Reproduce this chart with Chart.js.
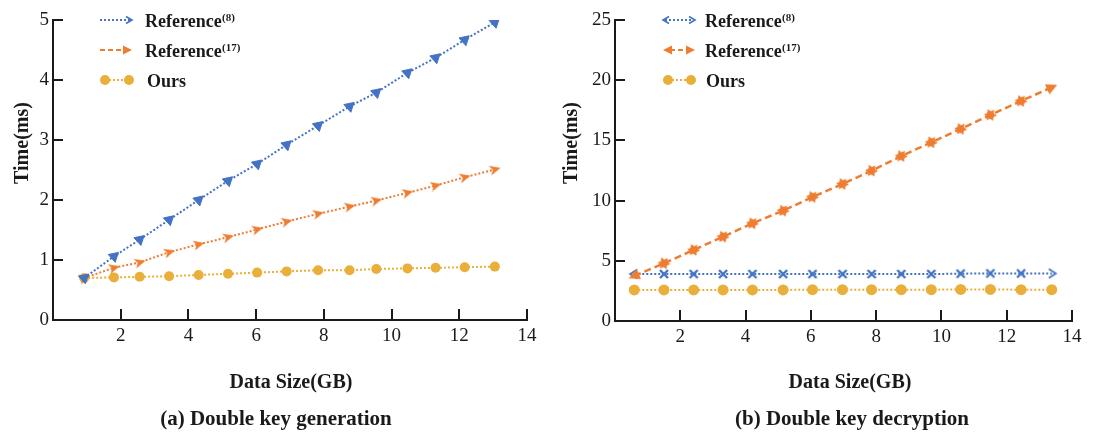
<!DOCTYPE html>
<html>
<head>
<meta charset="utf-8">
<script src="https://cdn.jsdelivr.net/npm/chart.js@4.4.1/dist/chart.umd.min.js"></script>
<style>
    html, body { margin: 0; padding: 0; background: #fff; }
    #kontener { position: relative; width: 1104px; height: 434px; }
    canvas { position: absolute; top: 0; }
    #wykresA { left: 0; }
    #wykresB { left: 552px; }
</style>
</head>
<body>
<div id="kontener">
    <canvas id="wykresA" width="552" height="434"></canvas>
    <canvas id="wykresB" width="552" height="434"></canvas>
</div>
<script>
// (a) Double key generation
const rozmiaryA = [0.92, 1.80, 2.56, 3.43, 4.30, 5.17, 6.03, 6.90, 7.83, 8.76, 9.55, 10.47, 11.30, 12.16, 13.05];
const czasRef8A = [0.70, 1.06, 1.34, 1.67, 2.00, 2.32, 2.60, 2.92, 3.24, 3.56, 3.79, 4.12, 4.37, 4.67, 4.96];
const czasRef17A = [0.70, 0.87, 0.96, 1.13, 1.26, 1.38, 1.51, 1.64, 1.77, 1.89, 1.99, 2.12, 2.24, 2.38, 2.51];
const czasNaszA = [0.70, 0.71, 0.72, 0.73, 0.75, 0.77, 0.79, 0.81, 0.83, 0.83, 0.85, 0.86, 0.87, 0.88, 0.89];

// (b) Double key decryption
const rozmiaryB = [0.59, 1.50, 2.41, 3.31, 4.21, 5.15, 6.05, 6.97, 7.86, 8.77, 9.69, 10.59, 11.50, 12.44, 13.38];
const czasRef8B = [3.90, 3.90, 3.90, 3.90, 3.90, 3.90, 3.90, 3.90, 3.90, 3.90, 3.90, 3.93, 3.95, 3.95, 3.95];
const czasRef17B = [3.74, 4.79, 5.90, 7.00, 8.11, 9.16, 10.30, 11.38, 12.48, 13.70, 14.84, 15.95, 17.11, 18.27, 19.41];
const czasNaszB = [2.58, 2.58, 2.58, 2.58, 2.58, 2.58, 2.60, 2.60, 2.60, 2.60, 2.60, 2.62, 2.62, 2.60, 2.60];

const tickiX = [0, 2, 4, 6, 8, 10, 12, 14];
const tickiYA = [0, 1, 2, 3, 4, 5];
const tickiYB = [0, 5, 10, 15, 20, 25];

const NIEBIESKI = '#4472C4';
const POMARANCZ = '#ED7D31';
const ZLOTY = '#E9AF3A';
const CZARNY = '#1a1a1a';
const CZCIONKA = '"Liberation Serif", "Times New Roman", serif';

function polacz(xs, ys) {
    return xs.map((x, i) => ({ x: x, y: ys[i] }));
}

function zrobZnacznik(rozmiar, rysuj) {
    const c = document.createElement('canvas');
    c.width = rozmiar;
    c.height = rozmiar;
    const g = c.getContext('2d');
    g.translate(rozmiar / 2, rozmiar / 2);
    rysuj(g);
    return c;
}

// strzalka z wcieciem (lewy wykres, Reference(17))
const strzalka = zrobZnacznik(16, g => {
    g.fillStyle = POMARANCZ;
    g.beginPath();
    g.moveTo(6, 0); g.lineTo(-5, -5); g.lineTo(-2, 0); g.lineTo(-5, 5);
    g.closePath();
    g.fill();
});

// pelny trojkat (konce Reference(17) po prawej)
const trojkat = zrobZnacznik(16, g => {
    g.fillStyle = POMARANCZ;
    g.beginPath();
    g.moveTo(6, 0); g.lineTo(-5, -5.5); g.lineTo(-5, 5.5);
    g.closePath();
    g.fill();
});

// gwiazdka szescioramienna
const gwiazda = zrobZnacznik(16, g => {
    g.fillStyle = POMARANCZ;
    [0, Math.PI].forEach(obrot => {
        g.beginPath();
        for (let k = 0; k < 3; k++) {
            const a = obrot + k * 2 * Math.PI / 3 - Math.PI / 2;
            const px = Math.cos(a) * 6.5, py = Math.sin(a) * 6.5;
            if (k === 0) g.moveTo(px, py); else g.lineTo(px, py);
        }
        g.closePath();
        g.fill();
    });
});

// otwarty szewron (konce Reference(8) po prawej)
const szewron = zrobZnacznik(16, g => {
    g.strokeStyle = NIEBIESKI;
    g.lineWidth = 1.8;
    g.beginPath();
    g.moveTo(-3, -4.5); g.lineTo(4, 0); g.lineTo(-3, 4.5);
    g.stroke();
});

// krzyzyk (srodek Reference(8) po prawej)
const krzyzyk = zrobZnacznik(14, g => {
    g.strokeStyle = NIEBIESKI;
    g.lineWidth = 2.4;
    g.beginPath();
    g.moveTo(-4, -4); g.lineTo(4, 4);
    g.moveTo(4, -4); g.lineTo(-4, 4);
    g.stroke();
});

function katLinii(c) {
    const dane = c.dataset.data;
    const i = c.dataIndex;
    if (i === undefined) return 0;
    const a = dane[Math.max(i - 1, 0)];
    const b = dane[Math.min(i + 1, dane.length - 1)];
    const sx = c.chart.scales.x, sy = c.chart.scales.y;
    return Math.atan2(sy.getPixelForValue(b.y) - sy.getPixelForValue(a.y),
        sx.getPixelForValue(b.x) - sx.getPixelForValue(a.x)) * 180 / Math.PI;
}

function osie(tickiY, szerokoscY, wysokoscX) {
    const czcionkaTickow = { family: CZCIONKA, size: 19 };
    return {
        x: {
            type: 'linear', min: 0, max: 14,
            afterBuildTicks: s => { s.ticks = tickiX.map(v => ({ value: v })); },
            ticks: { padding: 5, color: CZARNY, font: czcionkaTickow, maxRotation: 0, autoSkip: false,
                callback: v => v === 0 ? '' : v },
            grid: { display: false, drawTicks: false },
            border: { display: true, color: CZARNY, width: 2 },
            afterFit: s => { s.height = wysokoscX; }
        },
        y: {
            min: 0, max: tickiY[tickiY.length - 1],
            afterBuildTicks: s => { s.ticks = tickiY.map(v => ({ value: v })); },
            ticks: { padding: 4, color: CZARNY, font: czcionkaTickow },
            grid: { display: false, drawTicks: false },
            border: { display: true, color: CZARNY, width: 2 },
            afterFit: s => { s.width = szerokoscY; }
        }
    };
}

function wtyczkaOpisow(opis) {
    return {
        id: 'opisy',
        afterDraw(chart) {
            const { ctx, chartArea, scales } = chart;
            ctx.save();

            // ticki do srodka
            ctx.strokeStyle = CZARNY;
            ctx.lineWidth = 2;
            ctx.setLineDash([]);
            scales.x.ticks.forEach(t => {
                if (t.value === 0) return;
                const px = Math.round(scales.x.getPixelForValue(t.value));
                ctx.beginPath();
                ctx.moveTo(px, chartArea.bottom);
                ctx.lineTo(px, chartArea.bottom - 11);
                ctx.stroke();
            });
            scales.y.ticks.forEach(t => {
                if (t.value === 0) return;
                const py = Math.round(scales.y.getPixelForValue(t.value));
                ctx.beginPath();
                ctx.moveTo(chartArea.left, py);
                ctx.lineTo(chartArea.left + 10, py);
                ctx.stroke();
            });

            ctx.fillStyle = CZARNY;
            ctx.textAlign = 'center';
            ctx.textBaseline = 'middle';

            ctx.font = `bold 20px ${CZCIONKA}`;
            ctx.save();
            ctx.translate(opis.tytulY.x, opis.tytulY.y);
            ctx.rotate(-Math.PI / 2);
            ctx.fillText('Time(ms)', 0, 0);
            ctx.restore();

            ctx.fillText('Data Size(GB)', opis.tytulX.x, opis.tytulX.y);
            ctx.font = `bold 21px ${CZCIONKA}`;
            ctx.fillText(opis.podpis, opis.pozycjaPodpisu.x, opis.pozycjaPodpisu.y);

            // legenda
            opis.legenda.forEach((wpis, i) => {
                const y = opis.legendaY + i * 30;
                ctx.save();
                wpis.probka(ctx, y);
                ctx.restore();
                ctx.fillStyle = CZARNY;
                ctx.textAlign = 'left';
                ctx.textBaseline = 'alphabetic';
                ctx.font = `bold 18px ${CZCIONKA}`;
                ctx.fillText(wpis.tekst, wpis.x, y + 6.5);
                if (wpis.indeks) {
                    const w = ctx.measureText(wpis.tekst).width;
                    ctx.font = `bold 11px ${CZCIONKA}`;
                    ctx.fillText(wpis.indeks, wpis.x + w + 0.5, y + 1);
                }
            });
            ctx.restore();
        }
    };
}

function linia(ctx, x1, x2, y, kolor, wzor, grubosc) {
    ctx.strokeStyle = kolor;
    ctx.lineWidth = grubosc || 2;
    ctx.setLineDash(wzor);
    ctx.beginPath();
    ctx.moveTo(x1, y);
    ctx.lineTo(x2, y);
    ctx.stroke();
    ctx.setLineDash([]);
}

function kolko(ctx, x, y) {
    ctx.fillStyle = ZLOTY;
    ctx.beginPath();
    ctx.arc(x, y, 5, 0, Math.PI * 2);
    ctx.fill();
}

function grot(ctx, x, y, kierunek, pelny, kolor) {
    ctx.save();
    ctx.translate(x, y);
    ctx.scale(kierunek, 1);
    ctx.beginPath();
    if (pelny) {
        ctx.fillStyle = kolor;
        ctx.moveTo(0, 0); ctx.lineTo(-9, -4.5); ctx.lineTo(-9, 4.5);
        ctx.closePath();
        ctx.fill();
    } else {
        ctx.strokeStyle = kolor;
        ctx.lineWidth = 1.6;
        ctx.moveTo(-6, -3.5); ctx.lineTo(0, 0); ctx.lineTo(-6, 3.5);
        ctx.stroke();
    }
    ctx.restore();
}

// wykres (a)
new Chart(document.getElementById('wykresA').getContext('2d'), {
    type: 'line',
    data: {
        datasets: [
            {
                label: 'Reference(8)',
                data: polacz(rozmiaryA, czasRef8A),
                borderColor: NIEBIESKI,
                backgroundColor: NIEBIESKI,
                borderWidth: 2,
                borderDash: [2, 2],
                pointStyle: 'triangle',
                pointRadius: 6,
                pointBorderWidth: 1,
                pointRotation: 168
            },
            {
                label: 'Reference(17)',
                data: polacz(rozmiaryA, czasRef17A),
                borderColor: POMARANCZ,
                backgroundColor: POMARANCZ,
                borderWidth: 2,
                borderDash: [2, 2],
                pointStyle: strzalka,
                pointRotation: katLinii
            },
            {
                label: 'Ours',
                data: polacz(rozmiaryA, czasNaszA),
                borderColor: ZLOTY,
                backgroundColor: ZLOTY,
                borderWidth: 2,
                borderDash: [2, 2],
                pointStyle: 'circle',
                pointRadius: 5,
                pointBorderWidth: 0
            }
        ]
    },
    options: {
        responsive: false,
        animation: false,
        layout: { padding: { left: 0, right: 25, top: 20, bottom: 0 } },
        plugins: { legend: { display: false }, tooltip: { enabled: false } },
        scales: osie(tickiYA, 53, 114)
    },
    plugins: [wtyczkaOpisow({
        tytulY: { x: 23, y: 143 },
        tytulX: { x: 291, y: 383 },
        podpis: '(a) Double key generation',
        pozycjaPodpisu: { x: 276, y: 420 },
        legendaY: 20,
        legenda: [
            { tekst: 'Reference', indeks: '(8)', x: 145, probka: (ctx, y) => {
                linia(ctx, 100, 130, y, NIEBIESKI, [2, 2]);
                grot(ctx, 132, y, 1, false, NIEBIESKI);
            } },
            { tekst: 'Reference', indeks: '(17)', x: 145, probka: (ctx, y) => {
                linia(ctx, 100, 125, y, POMARANCZ, [5, 3]);
                grot(ctx, 132, y, 1, true, POMARANCZ);
            } },
            { tekst: 'Ours', x: 147, probka: (ctx, y) => {
                linia(ctx, 105, 129, y, ZLOTY, [2, 2]);
                kolko(ctx, 105, y);
                kolko(ctx, 129, y);
            } }
        ]
    })]
});

// wykres (b)
const ostatniB = rozmiaryB.length - 1;
new Chart(document.getElementById('wykresB').getContext('2d'), {
    type: 'line',
    data: {
        datasets: [
            {
                label: 'Reference(17)',
                data: polacz(rozmiaryB, czasRef17B),
                borderColor: POMARANCZ,
                backgroundColor: POMARANCZ,
                borderWidth: 2.5,
                borderDash: [7, 4],
                pointStyle: c => (c.dataIndex === 0 || c.dataIndex === ostatniB) ? trojkat : gwiazda,
                pointRotation: c => c.dataIndex === 0 ? katLinii(c) + 180 : katLinii(c)
            },
            {
                label: 'Reference(8)',
                data: polacz(rozmiaryB, czasRef8B),
                borderColor: NIEBIESKI,
                backgroundColor: NIEBIESKI,
                borderWidth: 2,
                borderDash: [2, 2],
                pointStyle: c => (c.dataIndex === 0 || c.dataIndex === ostatniB) ? szewron : krzyzyk,
                pointRotation: c => c.dataIndex === 0 ? katLinii(c) + 180 : katLinii(c)
            },
            {
                label: 'Ours',
                data: polacz(rozmiaryB, czasNaszB),
                borderColor: ZLOTY,
                backgroundColor: ZLOTY,
                borderWidth: 2,
                borderDash: [2, 2],
                pointStyle: 'circle',
                pointRadius: 5.5,
                pointBorderWidth: 0
            }
        ]
    },
    options: {
        responsive: false,
        animation: false,
        layout: { padding: { left: 0, right: 32, top: 20, bottom: 0 } },
        plugins: { legend: { display: false }, tooltip: { enabled: false } },
        scales: osie(tickiYB, 63, 113)
    },
    plugins: [wtyczkaOpisow({
        tytulY: { x: 20, y: 143 },
        tytulX: { x: 298, y: 383 },
        podpis: '(b) Double key decryption',
        pozycjaPodpisu: { x: 300, y: 420 },
        legendaY: 20,
        legenda: [
            { tekst: 'Reference', indeks: '(8)', x: 153, probka: (ctx, y) => {
                linia(ctx, 113, 141, y, NIEBIESKI, [2, 2]);
                grot(ctx, 111, y, -1, false, NIEBIESKI);
                grot(ctx, 143, y, 1, false, NIEBIESKI);
            } },
            { tekst: 'Reference', indeks: '(17)', x: 153, probka: (ctx, y) => {
                linia(ctx, 118, 136, y, POMARANCZ, [5, 3]);
                grot(ctx, 111, y, -1, true, POMARANCZ);
                grot(ctx, 143, y, 1, true, POMARANCZ);
            } },
            { tekst: 'Ours', x: 154, probka: (ctx, y) => {
                linia(ctx, 116, 139, y, ZLOTY, [2, 2]);
                kolko(ctx, 116, y);
                kolko(ctx, 139, y);
            } }
        ]
    })]
});
</script>
</body>
</html>
